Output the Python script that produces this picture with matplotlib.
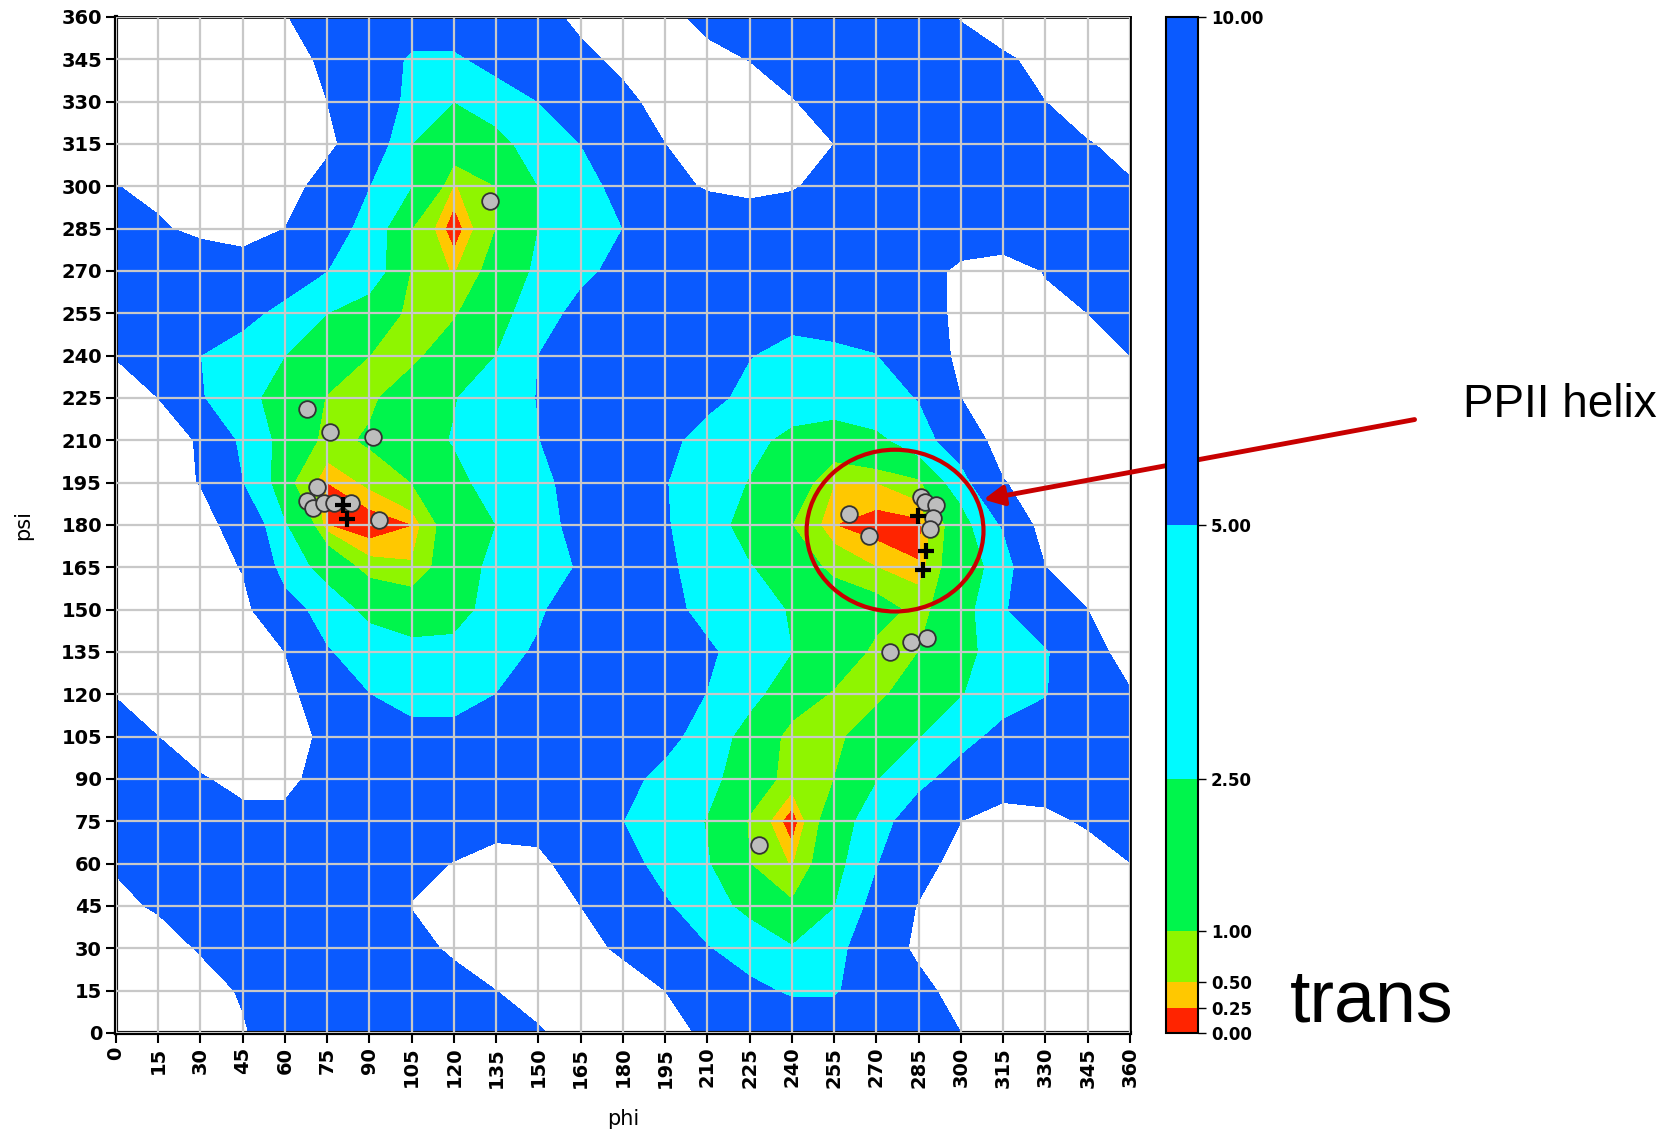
"""Energy map (phi/psi) with trans minima, PPII helix highlighted."""

import matplotlib

matplotlib.use("Agg")
import matplotlib.pyplot as plt  # noqa: E402
import numpy as np  # noqa: E402
from matplotlib.patches import Ellipse  # noqa: E402

# grid of dihedral angles (deg)
phi = np.arange(0, 361, 15)
psi = np.arange(0, 361, 15)

# relative energy (kcal/mol), rows = psi 0..360, cols = phi 0..360
energy = np.array([
    [13, 13, 13, 10.5, 7, 6, 6, 6, 6.5, 7.5, 9.5, 12, 13, 12, 9, 7, 6.5, 6.5, 7, 8, 10, 12, 13, 13, 13],
    [13, 13, 12, 9.5, 7, 6, 6, 6, 7.5, 10, 12, 13, 13, 10, 8, 5.5, 4.7, 4.7, 6.5, 8.5, 12, 13, 13, 13, 13],
    [13, 12, 9.6, 8, 6.5, 6, 6, 8, 11, 12.5, 13, 12, 9, 7, 5.1, 4, 2.6, 4, 7, 11, 13, 13, 13, 13, 13],
    [11, 9.5, 8, 7, 6.5, 6, 6.5, 10.2, 12, 13, 12, 10, 7.5, 5.3, 3.5, 1.8, 1.1, 2.4, 6, 10.3, 12, 13, 13, 13, 12],
    [9.6, 7.5, 6.5, 6, 6, 6, 6.5, 8.5, 10.2, 12, 11, 8, 6, 4, 2.6, 1.0, 0.45, 1.6, 4.8, 8, 12, 13, 13, 12, 10.1],
    [7, 7, 8, 9, 9, 8, 7, 6.5, 7, 8, 8.5, 7, 5, 3.5, 2.4, 0.9, 0.05, 1.5, 3.5, 7, 10, 12, 11, 9.5, 7],
    [7, 8, 9.7, 11, 11, 8.5, 6.5, 6, 6, 6, 6, 6.5, 6, 4, 3, 1.5, 0.7, 1.0, 2.4, 4, 6.5, 7.5, 8, 7.5, 7],
    [8, 10, 12, 13, 12, 9, 7, 5.8, 5.8, 6.5, 7, 7, 7, 6, 3.5, 1.8, 0.7, 0.8, 1.5, 2.4, 3.8, 6, 7, 7.5, 8],
    [10.2, 12, 13, 13, 11, 8, 5, 4, 4, 5, 6.5, 7, 7, 6.5, 4.9, 3, 1.5, 0.9, 0.8, 1.5, 2.4, 3.5, 4.8, 7.5, 9.8],
    [12, 13, 13, 12, 10, 5.2, 3.5, 3, 3, 3.8, 5.4, 7, 7.5, 7, 5.5, 3.5, 2.5, 1.6, 0.8, 1.0, 1.8, 3.5, 4.5, 9, 11],
    [13, 13, 13, 11, 6.5, 3.5, 2, 1.5, 1.8, 3.2, 4.5, 7, 7.5, 6, 4, 3, 2.4, 1.6, 1.3, 0.8, 1.5, 4.5, 8.5, 10, 12],
    [13, 13, 12, 9.8, 3.5, 1.8, 0.65, 0.55, 1.5, 3, 4, 5.2, 6, 5.5, 3.8, 2.6, 1.5, 0.8, 0.5, 0.27, 1.6, 3.2, 10, 12, 13],
    [13, 13, 12, 7.5, 2.6, 0.25, 0.05, 0.24, 1.5, 2.5, 3.8, 6, 6, 5.2, 3.5, 1.6, 1.0, 0.25, 0.1, 0.15, 1.5, 5.3, 12, 12, 13],
    [13, 12, 9.8, 5, 1.2, 0.25, 0.58, 1.0, 2, 3.2, 4, 6.5, 6.5, 5.1, 3.5, 2.4, 1.5, 0.5, 0.5, 0.75, 3.5, 9.8, 12, 13, 13],
    [13, 12, 9.6, 4, 1.8, 0.75, 1.1, 1.8, 2.6, 3.5, 4.9, 7, 7, 6, 3.5, 3, 2, 1.5, 2, 3.5, 7, 12, 13, 13, 13],
    [12, 10, 5.2, 3, 1.8, 0.95, 0.85, 1.5, 2.4, 3.5, 5.1, 7, 7.5, 7, 6, 4, 3.5, 3.5, 4, 5.1, 10, 12, 13, 13, 12],
    [9.8, 7, 5, 3.5, 2.5, 1.5, 1.0, 0.8, 1.5, 2.5, 5, 6.5, 7, 7, 6.5, 5.1, 4, 4.5, 4.9, 7, 11, 12, 12, 11, 10],
    [7, 6.5, 6.5, 6, 4, 2.5, 1.6, 0.8, 0.9, 1.8, 3.5, 6, 6.5, 6.5, 6.5, 6.5, 6, 6, 6.5, 8, 11, 12, 11, 10, 7],
    [7, 7, 7, 7.5, 7, 5, 3.5, 0.9, 0.45, 1.3, 2.8, 4.2, 6, 6.5, 6.5, 6.5, 6.5, 6.5, 6.5, 8, 11, 12, 9.8, 7.5, 7],
    [7.5, 9.5, 11, 12, 10, 7, 3.5, 1.0, 0.05, 1.0, 2.5, 3.8, 5, 6.5, 6.5, 6.5, 6.5, 6.5, 6.5, 6.5, 7, 7, 7, 7, 7.5],
    [9.9, 11, 12, 13, 12, 8, 5, 2.5, 0.45, 1.0, 2.5, 3.8, 6, 8.5, 10.5, 11.5, 10.5, 8, 7, 6.5, 6.5, 6.5, 7.5, 8.5, 9.7],
    [12, 13, 13, 13, 12.5, 11, 7, 2.5, 1.5, 1.8, 3.5, 5, 8, 10, 12, 12.5, 11.5, 10, 7.5, 7, 7, 7, 8, 9.8, 11],
    [13, 13, 13, 13, 13, 10, 7.5, 4, 2.5, 3.5, 5, 7, 9, 11.5, 12.5, 12, 10.2, 8.5, 7.5, 7.5, 8, 9, 10, 12, 13],
    [13, 13, 13, 13, 12, 9, 7, 4.5, 4.5, 6, 7.5, 9, 11, 12, 11, 9.9, 8.5, 8, 8, 8, 8.5, 9.5, 11, 12, 13],
    [13, 13, 13, 12, 10.2, 8, 7, 7, 7, 7.5, 8.5, 11, 12, 11, 9, 8, 8, 8, 8, 8.5, 10.2, 12, 13, 13, 13],
])

levels = [0.0, 0.25, 0.5, 1.0, 2.5, 5.0, 10.0]
band_colors = ["#ff2400", "#ffc800", "#8ff500", "#00f54c", "#00faff", "#0a5aff"]

# observed conformations (grey circles) and reference structures (crosses)
circle_phi = [67.8, 76.1, 91.1, 71.4, 67.8, 69.8, 74.0, 77.5, 83.4, 93.3, 132.8,
              260.1, 267.4, 285.8, 287.2, 291.1, 289.9, 289.1, 274.9, 282.2, 288.1, 228.4]
circle_psi = [221.0, 213.1, 211.3, 193.6, 188.5, 185.9, 187.7, 187.7, 187.7, 181.8, 294.8,
              183.8, 176.1, 189.8, 188.3, 187.1, 182.6, 178.6, 135.1, 138.4, 139.9, 66.6]
plus_phi = [80.5, 82.2, 284.9, 287.5, 286.6]
plus_psi = [187.1, 182.0, 183.2, 170.6, 164.1]

fig = plt.figure(figsize=(16.8, 11.37), dpi=100)
ax = fig.add_axes([0.069, 0.0915, 0.6036, 0.8936])
cs = ax.contourf(phi, psi, energy, levels=levels, colors=band_colors)

ax.set_xlim(0, 360)
ax.set_ylim(0, 360)
ticks = np.arange(0, 361, 15)
ax.set_xticks(ticks)
ax.set_yticks(ticks)
ax.set_xticklabels([str(t) for t in ticks], rotation=90, fontsize=14, fontweight="bold")
ax.set_yticklabels([str(t) for t in ticks], fontsize=14, fontweight="bold")
ax.tick_params(direction="out", length=7, width=1.5, pad=3)
ax.grid(color="#c8c8c8", linewidth=1.6)
ax.set_axisbelow(False)
for side in ax.spines.values():
    side.set_linewidth(2)
ax.spines["left"].set_linewidth(3)
ax.spines["bottom"].set_linewidth(3)
ax.set_xlabel("phi", fontsize=15)
ax.set_ylabel("psi", fontsize=15)
ax.xaxis.set_label_coords(0.5, -0.075)
ax.yaxis.set_label_coords(-0.082, 0.5)

ax.plot(circle_phi, circle_psi, "o", ms=12, mfc="#bdbdbd", mec="#333333", mew=1.3, zorder=5)
ax.plot(plus_phi, plus_psi, "+", ms=12, color="black", mew=3, zorder=6)

# PPII region
ax.add_patch(Ellipse((276.6, 178.0), 62.8, 57.3, fill=False, edgecolor="#c80000",
                     linewidth=3, zorder=7))
ax.annotate("", xy=(308, 189), xycoords="data", xytext=(0.842, 0.631),
            textcoords="figure fraction", annotation_clip=False,
            arrowprops=dict(arrowstyle="-|>", color="#c80000", lw=3.5,
                            mutation_scale=30, shrinkA=0, shrinkB=0))
fig.text(0.871, 0.644, "PPII helix", fontsize=33, family="Liberation Sans", va="center")
fig.text(0.768, 0.102, "trans", fontsize=53, family="Liberation Sans", va="baseline")

cax = fig.add_axes([0.694, 0.0915, 0.019, 0.8936])
cb = fig.colorbar(cs, cax=cax, spacing="proportional", ticks=levels)
cb.ax.set_yticklabels([f"{v:.2f}" for v in levels], fontsize=12, fontweight="bold")
cb.ax.tick_params(length=6, width=1)
cb.outline.set_linewidth(1.5)

fig.savefig("out.png", dpi=100)
plt.close(fig)
